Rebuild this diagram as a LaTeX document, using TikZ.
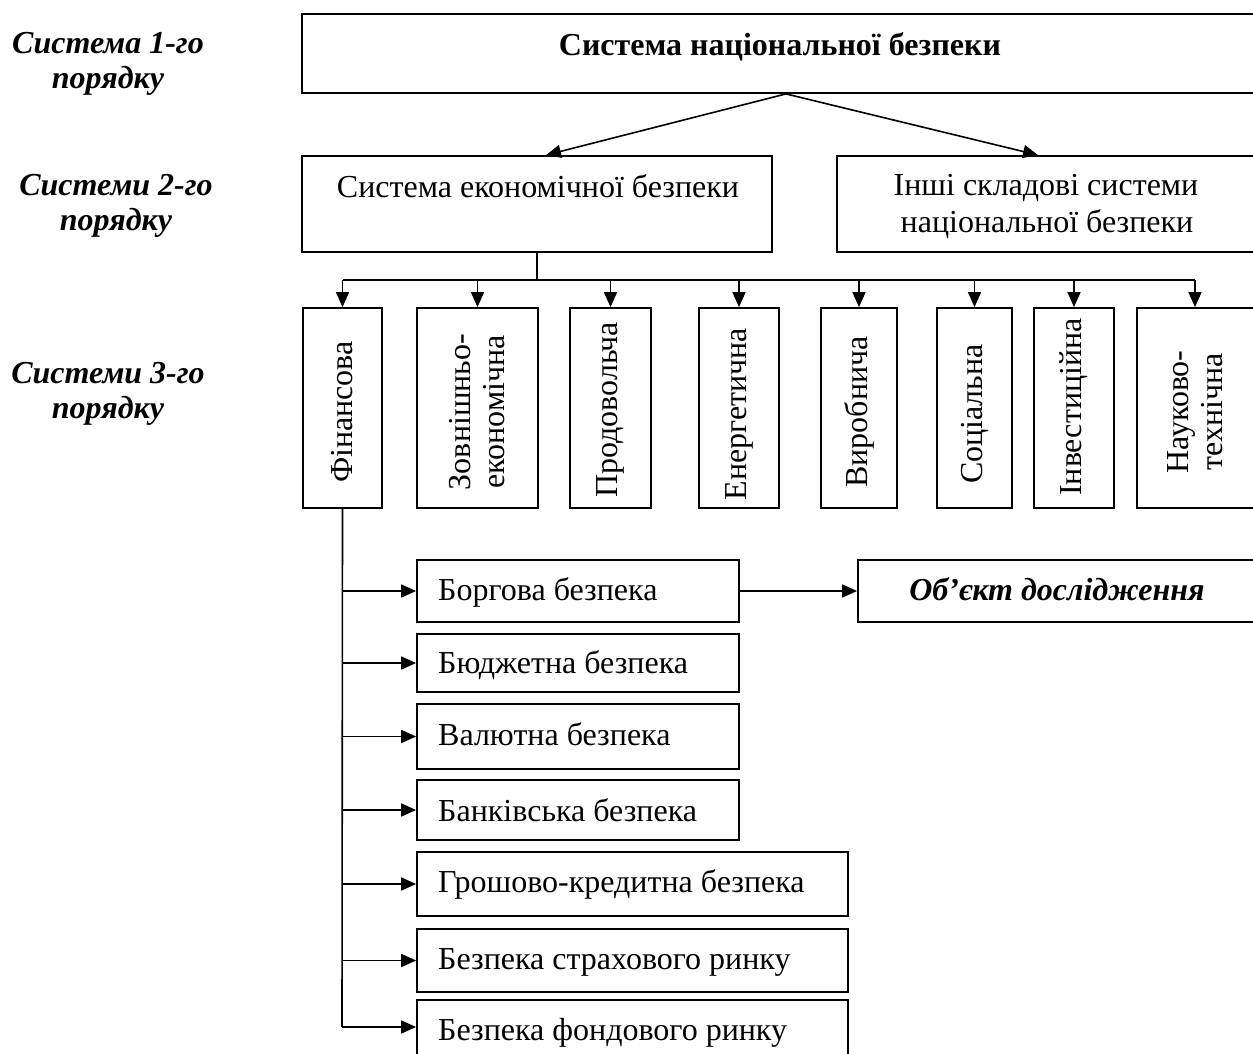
\documentclass[tikz,border=0pt]{standalone}
\usepackage{fontspec}
\setmainfont{Liberation Serif}
\usetikzlibrary{arrows.meta,calc}
\begin{document}
\begin{tikzpicture}[x=1pt,y=-1pt,
  box/.style={draw, line width=1.8pt, inner sep=0pt, rectangle},
  conn/.style={line width=1.6pt},
  arr/.style={conn, -{Triangle[length=15pt,width=13pt]}},
  txt/.style={inner sep=0pt, font=\fontsize{32}{34}\selectfont},
  btxt/.style={inner sep=0pt, font=\fontsize{32}{34}\selectfont\bfseries},
  lbl/.style={inner sep=0pt, font=\fontsize{32}{34}\selectfont\bfseries\itshape},
  vtxt/.style={txt, rotate=90, align=center}]
\useasboundingbox (0,0) rectangle (1253,1053);
\clip (0,0) rectangle (1253,1053);
% left labels
\node[lbl, anchor=base] (l1a) at (108,53) {Система 1-го};
\node[lbl, anchor=base] (l1b) at (108,88) {порядку};
\node[lbl, anchor=base] (l2a) at (116,195) {Системи 2-го};
\node[lbl, anchor=base] (l2b) at (116,230) {порядку};
\node[lbl, anchor=base] (l3a) at (108,383) {Системи 3-го};
\node[lbl, anchor=base] (l3b) at (108,418) {порядку};
% level 1
\node[box, minimum width=968pt, minimum height=79pt] (top) at (786,53.5) {};
\node[btxt, anchor=base] (toptxt) at (780,55) {Система національної безпеки};
% level 2
\node[box, minimum width=470pt, minimum height=96pt] (eco) at (537,204) {};
\node[txt, anchor=base] (ecotxt) at (538,197) {Система економічної безпеки};
\node[box, minimum width=433pt, minimum height=96pt] (oth) at (1053.5,204) {};
\node[txt, anchor=base] (othtxt1) at (1046,195) {Інші складові системи};
\node[txt, anchor=base] (othtxt2) at (1047,232) {національної безпеки};
\draw[arr] (top.south) -- ($(eco.north)+(9,0)$);
\draw[arr] (top.south) -- ($(oth.north)+(-15.5,0)$);
% level 3
\node[box, minimum width=79pt, minimum height=200pt] (v1) at (342.5,408) {};
\node[box, minimum width=121pt, minimum height=200pt] (v2) at (477.5,408) {};
\node[box, minimum width=81pt, minimum height=200pt] (v3) at (610.5,408) {};
\node[box, minimum width=80pt, minimum height=200pt] (v4) at (739,408) {};
\node[box, minimum width=76pt, minimum height=200pt] (v5) at (859,408) {};
\node[box, minimum width=75pt, minimum height=200pt] (v6) at (974.5,408) {};
\node[box, minimum width=80pt, minimum height=200pt] (v7) at (1074,408) {};
\node[box, minimum width=133pt, minimum height=200pt] (v8) at (1203.5,408) {};
\node[vtxt] (v1t) at (342.5,412) {Фінансова};
\node[vtxt] (v2t) at (477.5,412) {Зовнішньо-\\економічна};
\node[vtxt] (v3t) at (610.5,410) {Продовольча};
\node[vtxt] (v4t) at (739,414) {Енергетична};
\node[vtxt] (v5t) at (859,412) {Виробнича};
\node[vtxt] (v6t) at (974.5,414) {Соціальна};
\node[vtxt] (v7t) at (1074,407) {Інвестиційна};
\node[vtxt] (v8t) at (1195,412) {Науково-\\технічна};
\coordinate (bus) at (537,280);
\coordinate (bus8) at (1195,280);
\draw[conn] (eco.south) -- (bus);
\draw[conn] (bus -| v1.north) -- (bus8);
\foreach \v in {v1,v2,v3,v4,v5,v6,v7}{
  \draw[arr] (bus -| \v.north) -- (\v.north);
}
\draw[arr] (bus8) -- (bus8 |- v8.north);
% level 4
\node[box, minimum width=322pt, minimum height=62pt] (h1) at (578,591) {};
\node[box, minimum width=322pt, minimum height=58pt] (h2) at (578,663) {};
\node[box, minimum width=322pt, minimum height=65pt] (h3) at (578,736.5) {};
\node[box, minimum width=322pt, minimum height=60pt] (h4) at (578,810) {};
\node[box, minimum width=431pt, minimum height=64pt] (h5) at (632.5,884) {};
\node[box, minimum width=431pt, minimum height=63pt] (h6) at (632.5,960.5) {};
\node[box, minimum width=431pt, minimum height=64pt] (h7) at (632.5,1032) {};
\node[box, minimum width=412pt, minimum height=62pt] (obj) at (1064,591) {};
\node[txt, anchor=base west] (h1t) at (438,600) {Боргова безпека};
\node[txt, anchor=base west] (h2t) at (438,673) {Бюджетна безпека};
\node[txt, anchor=base west] (h3t) at (438,745) {Валютна безпека};
\node[txt, anchor=base west] (h4t) at (438,821) {Банківська безпека};
\node[txt, anchor=base west] (h5t) at (438,892) {Грошово-кредитна безпека};
\node[txt, anchor=base west] (h6t) at (438,969) {Безпека страхового ринку};
\node[txt, anchor=base west] (h7t) at (438,1040) {Безпека фондового ринку};
\node[lbl, anchor=base] (objt) at (1057,600) {Об’єкт дослідження};
\coordinate (vend) at (342,1027);
\draw[conn] (v1.south) -- (vend);
\foreach \h in {h1,h2,h3,h4,h5,h6}{
  \draw[arr] (v1.south |- \h.west) -- (\h.west);
}
\draw[arr] (vend) -- (vend -| h7.west);
\draw[arr] (h1.east) -- (obj.west);
\end{tikzpicture}
\end{document}
